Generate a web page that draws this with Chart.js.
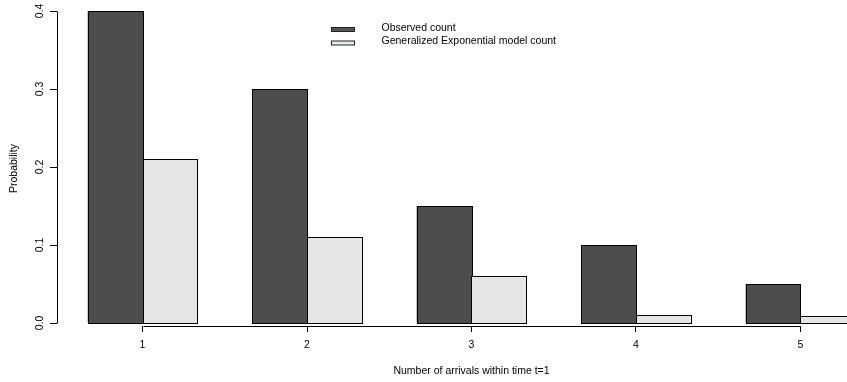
<!DOCTYPE html>
<html><head><meta charset="utf-8">
<script src="https://cdn.jsdelivr.net/npm/chart.js@4"></script>
<style>
html,body{margin:0;padding:0;background:#fff;overflow:hidden}
#wrap{width:847px;height:382px;overflow:hidden;position:relative;background:#fff}
canvas{display:block}
</style></head>
<body><div id="wrap"><canvas id="c" width="886" height="382"></canvas></div>
<script>
// ---- data ----
const categories = ['1', '2', '3', '4', '5'];
const observed = [0.40, 0.30, 0.15, 0.10, 0.05];
const modelCount = [0.21, 0.11, 0.06, 0.01, 0.009];
const yTicks = [0.0, 0.1, 0.2, 0.3, 0.4];
const seriesNames = ['Observed count', 'Generalized Exponential model count'];
const xTitle = 'Number of arrivals within time t=1';
const yTitle = 'Probability';

// R barplot(beside=TRUE) layout: two unit-wide bars per group + one unit of space
const groupCenter = i => 3 * i + 2;
const xTickValues = categories.map((_, i) => groupCenter(i));

Chart.defaults.font.family = "'Liberation Sans', Arial, Helvetica, sans-serif";
Chart.defaults.font.size = 10.5;
Chart.defaults.color = '#000';

const legendColors = ['#555555', '#e0eeee'];

// pixel-snapped fill + black outline for each bar element laid out by Chart.js
const barOutlines = {
  id: 'barOutlines',
  afterDatasetsDraw(chart) {
    const ctx = chart.ctx;
    ctx.save();
    ctx.lineWidth = 1;
    chart.data.datasets.forEach((ds, di) => {
      chart.getDatasetMeta(di).data.forEach(el => {
        const p = el.getProps(['x', 'y', 'base', 'width'], true);
        const l = Math.round(p.x - p.width / 2), r = Math.round(p.x + p.width / 2);
        const t = Math.round(p.y), b = Math.round(p.base);
        ctx.fillStyle = ds.backgroundColor;
        ctx.fillRect(l, t, r - l + 1, b - t + 1);
        ctx.strokeStyle = '#000';
        ctx.strokeRect(l + 0.5, t + 0.5, r - l, b - t);
      });
    });
    ctx.restore();
  }
};

const axesAndLegend = {
  id: 'axesAndLegend',
  afterDraw(chart) {
    const ctx = chart.ctx;
    const xs = chart.scales.x, ys = chart.scales.y;
    ctx.save();
    ctx.strokeStyle = '#000';
    ctx.lineWidth = 1;
    // y axis line from first to last tick
    const ax = Math.round(chart.chartArea.left) + 0.5;
    ctx.beginPath();
    ctx.moveTo(ax, Math.round(ys.getPixelForValue(yTicks[0])) + 0.5);
    ctx.lineTo(ax, Math.round(ys.getPixelForValue(yTicks[yTicks.length - 1])) + 0.5);
    ctx.stroke();
    // x axis line from first to last tick
    const ay = Math.round(chart.chartArea.bottom) + 0.5;
    ctx.beginPath();
    ctx.moveTo(Math.round(xs.getPixelForValue(xTickValues[0])) + 0.5, ay);
    ctx.lineTo(Math.round(xs.getPixelForValue(xTickValues[xTickValues.length - 1])) + 0.5, ay);
    ctx.stroke();
    // legend
    ctx.font = "10.5px 'Liberation Sans', Arial, sans-serif";
    ctx.textBaseline = 'middle';
    ctx.textAlign = 'left';
    chart.data.datasets.forEach((ds, i) => {
      const by = 27.5 + i * 13.5;
      ctx.fillStyle = legendColors[i];
      ctx.fillRect(331.5, by, 23, 4);
      ctx.strokeStyle = '#222';
      ctx.strokeRect(331.5, by, 23, 4);
      ctx.fillStyle = '#000';
      ctx.fillText(ds.label, 381.5, 28 + i * 13.5);
    });
    ctx.restore();
  }
};

new Chart(document.getElementById('c'), {
  type: 'bar',
  data: {
    datasets: [
      {
        label: seriesNames[0],
        data: observed.map((v, i) => ({x: groupCenter(i), y: v})),
        backgroundColor: '#4d4d4d',
        borderWidth: 0
      },
      {
        label: seriesNames[1],
        data: modelCount.map((v, i) => ({x: groupCenter(i), y: v})),
        backgroundColor: '#e6e6e6',
        borderWidth: 0
      }
    ]
  },
  options: {
    responsive: false,
    animation: false,
    devicePixelRatio: 1,
    categoryPercentage: 2 / 3,
    barPercentage: 1,
    layout: {padding: {top: 11, left: 0, right: 0, bottom: 0}},
    plugins: {legend: {display: false}, tooltip: {enabled: false}},
    scales: {
      x: {
        type: 'linear',
        min: 0.44,
        max: 15.56,
        offset: false,
        afterBuildTicks: s => { s.ticks = xTickValues.map(v => ({value: v})); },
        afterFit: s => { s.height = 56; },
        ticks: {
          autoSkip: false,
          minRotation: 0, maxRotation: 0,
          padding: 7,
          callback: (v, i) => categories[i]
        },
        grid: {display: true, offset: false, drawOnChartArea: false, drawTicks: true, tickLength: 6, tickColor: '#000', lineWidth: 1},
        border: {display: false},
        title: {display: true, text: xTitle, padding: {top: 0, bottom: 5}}
      },
      y: {
        type: 'linear',
        min: -0.003846,
        max: 0.4,
        afterBuildTicks: s => { s.ticks = yTicks.map(v => ({value: v})); },
        afterFit: s => { s.width = 57; },
        ticks: {
          autoSkip: false,
          minRotation: 90, maxRotation: 90,
          crossAlign: 'center',
          padding: 3,
          callback: v => v.toFixed(1)
        },
        grid: {display: true, offset: false, drawOnChartArea: false, drawTicks: true, tickLength: 7, tickColor: '#000', lineWidth: 1},
        border: {display: false},
        title: {display: true, text: yTitle, padding: {top: 7.5, bottom: 0}}
      }
    }
  },
  plugins: [barOutlines, axesAndLegend]
});
</script>
</body></html>
